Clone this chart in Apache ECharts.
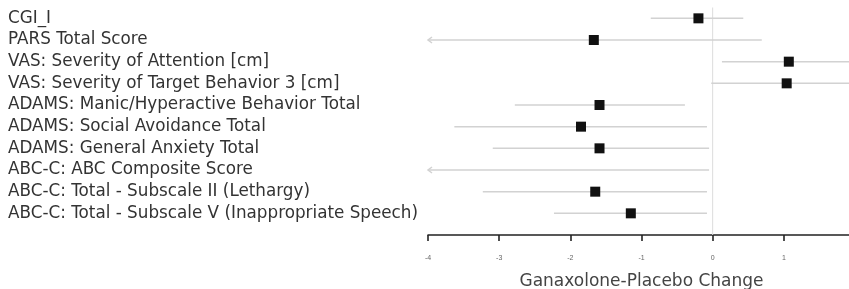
<!DOCTYPE html>
<html>
<head>
<meta charset="utf-8">
<script src="https://cdn.jsdelivr.net/npm/echarts@6/dist/echarts.min.js"></script>
<style>
  html, body { margin: 0; padding: 0; background: #fff; }
  #chart { width: 849px; height: 289px; }
</style>
</head>
<body>
<div id="chart"></div>
<script>
const categories = [
  "CGI_I",
  "PARS Total Score",
  "VAS: Severity of Attention [cm]",
  "VAS: Severity of Target Behavior 3 [cm]",
  "ADAMS: Manic/Hyperactive Behavior Total",
  "ADAMS: Social Avoidance Total",
  "ADAMS: General Anxiety Total",
  "ABC-C: ABC Composite Score",
  "ABC-C: Total - Subscale II (Lethargy)",
  "ABC-C: Total - Subscale V (Inappropriate Speech)"
];
// point estimates (row 8 lies off the left of the axis)
const estimates = [-0.20, -1.67, 1.07, 1.04, -1.59, -1.85, -1.59, -4.4, -1.65, -1.15];
const lower = [-0.87, -4.6, 0.13, -0.02, -2.78, -3.63, -3.09, -5.0, -3.23, -2.23];
const upper = [0.43, 0.69, 2.6, 2.5, -0.39, -0.08, -0.05, -0.05, -0.08, -0.08];
const xTicks = [-4, -3, -2, -1, 0, 1, 2];
const refValue = 0;

const X_MIN = xTicks[0];
const X_MAX = xTicks[xTicks.length - 1];

const chart = echarts.init(document.getElementById("chart"), null, { renderer: "canvas" });

const option = {
  animation: false,
  grid: { left: 428, width: 427, top: 7.5, bottom: 54, containLabel: false, outerBoundsMode: "none" },
  xAxis: {
    type: "value",
    min: X_MIN,
    max: X_MAX,
    interval: 1,
    name: "Ganaxolone-Placebo Change",
    nameLocation: "middle",
    nameGap: 38,
    nameTextStyle: { fontFamily: "DejaVu Sans", fontSize: 17, color: "#444" },
    axisLine: { onZero: false, lineStyle: { color: "#222", width: 1.5 } },
    axisTick: { length: 6, lineStyle: { color: "#222", width: 1.6 } },
    axisLabel: { fontFamily: "Liberation Sans", fontSize: 7, color: "#666", margin: 20 },
    splitLine: { show: false }
  },
  yAxis: {
    type: "value",
    inverse: true,
    min: -0.5,
    max: categories.length,
    interval: 0.5,
    axisLine: { show: false },
    axisTick: { show: false },
    splitLine: { show: false },
    axisLabel: {
      align: "left",
      margin: 420,
      fontFamily: "DejaVu Sans",
      fontSize: 16.8,
      color: "#333",
      formatter: (v) => (Number.isInteger(v) && v >= 0 && v < categories.length ? categories[v] : "")
    }
  },
  series: [
    {
      type: "line",
      data: [[refValue, -0.5], [refValue, categories.length]],
      symbol: "none",
      silent: true,
      lineStyle: { color: "#dcdcdc", width: 1 },
      z: 1
    },
    {
      type: "custom",
      data: categories.map((_, i) => [lower[i], upper[i], i]),
      renderItem: (params, api) => {
        const lo = api.value(0), hi = api.value(1), row = api.value(2);
        const p0 = api.coord([Math.max(lo, X_MIN), row]);
        const p1 = api.coord([Math.min(hi, X_MAX), row]);
        const style = { stroke: "#d2d2d2", lineWidth: 1.5, fill: null };
        const children = [
          { type: "line", shape: { x1: p0[0], y1: p0[1], x2: p1[0], y2: p1[1] }, style }
        ];
        if (lo < X_MIN) {
          children.push({
            type: "polyline",
            shape: { points: [[p0[0] + 4, p0[1] - 3], [p0[0], p0[1]], [p0[0] + 4, p0[1] + 3]] },
            style
          });
        }
        return { type: "group", children };
      },
      z: 2
    },
    {
      type: "scatter",
      data: estimates.map((v, i) => [v, i]),
      symbol: "rect",
      symbolSize: 10,
      clip: true,
      itemStyle: { color: "#111", opacity: 1 },
      z: 3
    }
  ]
};

chart.setOption(option);
window.addEventListener("resize", () => chart.resize());
</script>
</body>
</html>
